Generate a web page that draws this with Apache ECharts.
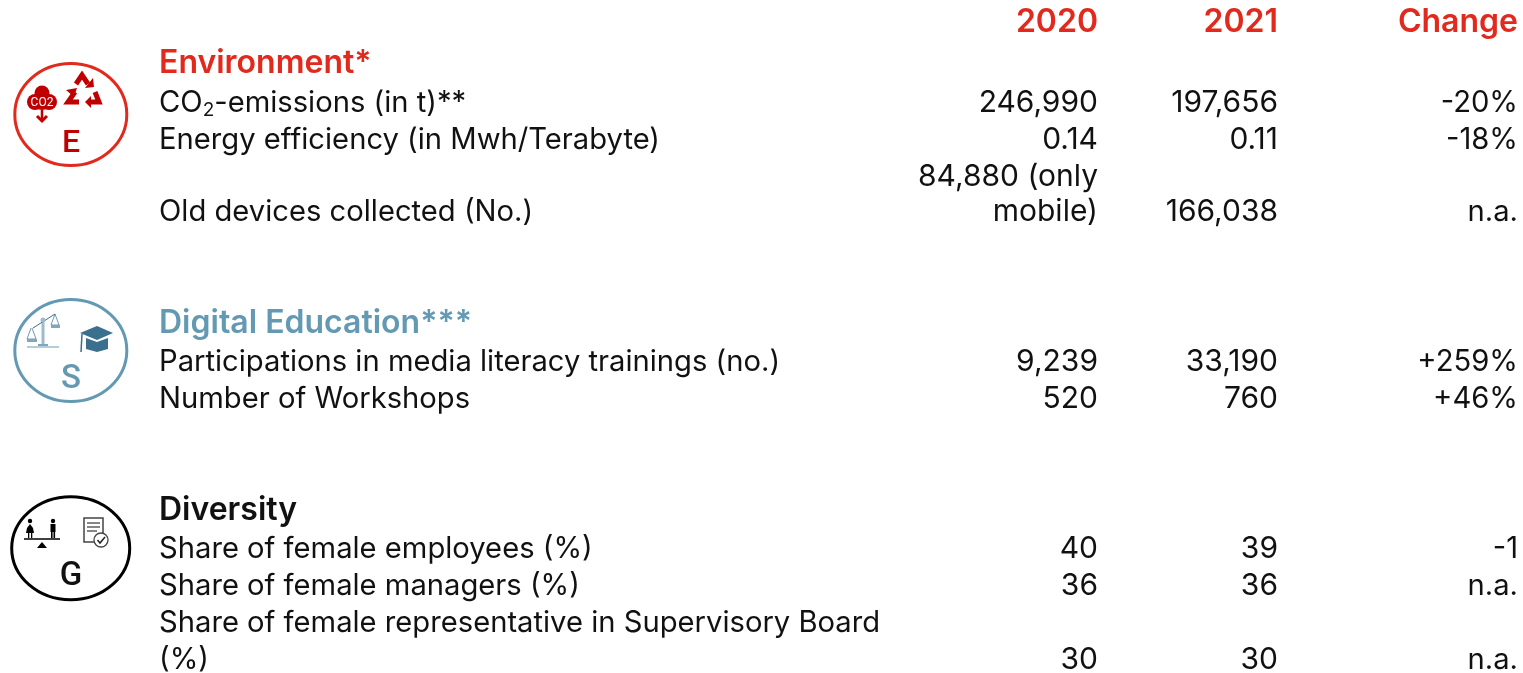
<!DOCTYPE html>
<html><head><meta charset="utf-8">
<style>html,body{margin:0;padding:0;background:#fff}#c{width:1523px;height:673px}</style>
<script src="https://cdn.jsdelivr.net/npm/echarts@6/dist/echarts.min.js"></script>
</head><body><div id="c"></div>
<script>
const headers = ['2020','2021','Change'];
const sections = ['Environment*','Digital Education***','Diversity'];
const rowLabels = ['{n|CO}{s|2}{n|-emissions (in t)**}','Energy efficiency (in Mwh/Terabyte)','Old devices collected (No.)',
 'Participations in media literacy trainings (no.)','Number of Workshops',
 'Share of female employees (%)','Share of female managers (%)','Share of female representative in Supervisory Board','(%)'];
const col2020 = ['246,990','0.14','mobile)','9,239','520','40','36','','30'];
const col2021 = ['197,656','0.11','166,038','33,190','760','39','36','','30'];
const colChange = ['-20%','-18%','n.a.','+259%','+46%','-1','n.a.','','n.a.'];
const extra2020 = '84,880 (only';
const iconLetters = ['E','S','G'];

const RED='#e1291d', BLUE='#6399b3', DARK='#3a6f8d', CRED='#c00000', FONT='Inter', FS=29.2, NUM=30, HEAD=32;
const rowY=[103,140,212,362,399,549,586,623,660];
const secY=[63,323,510];
const colX=[1098,1278,1518];
const items=[];
headers.forEach((t,i)=>items.push({x:colX[i],y:22,t,align:'right',c:RED,w:600,fs:HEAD}));
sections.forEach((t,i)=>items.push({x:159,y:secY[i],t,align:'left',c:[RED,BLUE,'#111'][i],w:600,fs:HEAD}));
rowLabels.forEach((t,i)=>{
  items.push({x:159,y:rowY[i],t,align:'left',c:'#111',w:400,fs:FS});
  [col2020,col2021,colChange].forEach((col,j)=>{ if(col[i]) items.push({x:colX[j],y:rowY[i],t:col[i],align:'right',c:'#111',w:400,fs:j==2?FS:NUM}); });
});
items.push({x:colX[0],y:177,t:extra2020,align:'right',c:'#111',w:400,fs:NUM});

const poly=(points,color,lw)=>({type:'polyline',silent:true,shape:{points},style:{stroke:color,lineWidth:lw,fill:null}});
const tri=(points,color)=>({type:'polygon',silent:true,shape:{points},style:{fill:color}});
const circ=(cx,cy,r,color)=>({type:'circle',silent:true,shape:{cx,cy,r},style:{fill:color}});
const ell=(cx,cy,rx,ry,color)=>({type:'ellipse',silent:true,shape:{cx,cy,rx,ry},style:{fill:'#fff',stroke:color,lineWidth:3}});
const rect=(x,y,width,height,fill,stroke,lw)=>({type:'rect',silent:true,shape:{x,y,width,height},style:{fill:fill||null,stroke:stroke||null,lineWidth:lw||1}});
const txt=(x,y,text,fill,font,fs,w)=>({type:'text',silent:true,x,y,style:{text,fill,fontFamily:font,fontSize:fs,fontWeight:w||400,align:'center',verticalAlign:'middle'}});

const icons=[
 ell(70.8,114.5,56,51,RED),
 circ(42,93,7.5,CRED),circ(35,102,8,CRED),circ(49,102,8,CRED),circ(42,102,8,CRED),
 txt(42,103,'CO2','#fff','Roboto',12),
 poly([[42,110],[42,121]],CRED,2.5),poly([[37,116],[42,121],[47,116]],CRED,3),
 poly([[76,84],[82,75],[88,84]],CRED,5),tri([[85,88],[93,78],[94,87]],CRED),
 poly([[75,92],[68,102],[79,102]],CRED,5),tri([[66,90],[77,88],[74,97]],CRED),
 poly([[95,92],[99,102],[88,102]],CRED,5),tri([[85,102],[91,96],[91,108]],CRED),
 txt(71,144,iconLetters[0],CRED,'Roboto',32,500),

 ell(70.8,350.5,56,51,BLUE),
 poly([[27,347],[59,347]],'#9dbccb',1.5),poly([[43,320],[43,345]],'#9dbccb',3),
 poly([[33,328],[55,314]],DARK,1),circ(43,320,2.5,'#9dbccb'),
 poly([[31,328],[27,339],[36,339],[32,328]],DARK,.7),poly([[55,314],[51,325],[59,325],[55,314]],DARK,.7),
 rect(27,339,10,3,'#7fa6b9'),rect(51,325,9,3,'#7fa6b9'),rect(38,344,10,2,'#7fa6b9'),
 tri([[80,333],[97,326],[113,333],[97,340]],DARK),
 tri([[86,338],[97,342],[108,338],[108,349],[97,352],[86,349]],DARK),
 poly([[82,334],[81,352]],DARK,1.5),
 txt(71,380,iconLetters[1],BLUE,'Roboto',33,500),

 ell(70.7,548.3,59,51.5,'#000'),
 poly([[24,539],[60,539]],'#000',1.5),tri([[37,548],[42,542],[47,548]],'#000'),
 circ(30,521,2.2,'#000'),tri([[30,524],[27,528],[26,533],[34,533],[33,528]],'#000'),rect(28,533,1.3,5,'#000'),rect(31,533,1.3,5,'#000'),
 circ(53,521,2.2,'#000'),rect(50.5,524,5,8,'#000'),rect(51,532,1.6,6,'#000'),rect(53.5,532,1.6,6,'#000'),
 rect(84,518,19,24,'#fff','#444',1.5),poly([[87,523],[100,523]],'#444',1.3),poly([[87,527],[100,527]],'#444',1.3),poly([[87,531],[97,531]],'#444',1.3),
 {type:'circle',silent:true,shape:{cx:101,cy:540,r:7},style:{fill:'#fff',stroke:'#444',lineWidth:1.3}},
 poly([[97.5,540],[100,543],[105,537]],'#222',1.5),
 txt(71,577,iconLetters[2],'#111','Roboto',33,500)
];

const chart=echarts.init(document.getElementById('c'),null,{renderer:'canvas'});
chart.setOption({
 animation:false,
 grid:{left:0,right:0,top:0,bottom:0},
 xAxis:{type:'value',min:0,max:1523,show:false},
 yAxis:{type:'value',min:0,max:673,inverse:true,show:false},
 graphic:{elements:icons},
 series:[{
  type:'custom',silent:true,clip:false,coordinateSystem:'cartesian2d',
  data:items.map(d=>[d.x,d.y]),
  renderItem(p,api){
   const d=items[p.dataIndex], pt=api.coord([api.value(0),api.value(1)]);
   return {type:'text',x:pt[0],y:pt[1],style:{text:d.t,fill:d.c,fontFamily:FONT,fontSize:d.fs,fontWeight:d.w,align:d.align,verticalAlign:'middle',
     rich:{n:{fontFamily:FONT,fontSize:d.fs,fill:d.c,fontWeight:d.w},s:{fontFamily:FONT,fontSize:19,fill:d.c,padding:[14,0,0,0]}}}};
  }
 }]
});
</script></body></html>
